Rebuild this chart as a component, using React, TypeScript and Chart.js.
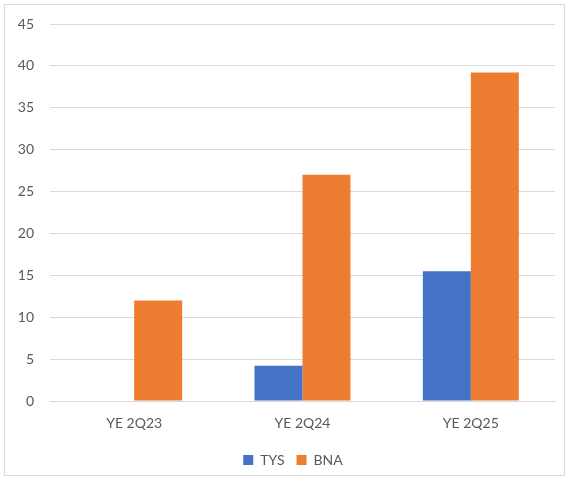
import React, { useEffect, useRef } from "react";
import { Chart, registerables } from "chart.js";

Chart.register(...registerables);

const categories = ["YE 2Q23", "YE 2Q24", "YE 2Q25"];
const tysValues = [0, 4.2, 15.5];
const bnaValues = [12, 27, 39.2];
const yMin = 0;
const yMax = 45;
const yStep = 5;

export default function App() {
  const ref = useRef<HTMLCanvasElement | null>(null);
  useEffect(() => {
    document.body.style.margin = "0";
    const ctx = ref.current!;
    const shiftLegend = {
      id: "shiftLegend",
      afterLayout(chart: any) {
        if (chart.legend) {
          chart.legend.left += 13;
          chart.legend.right += 13;
          chart.legend.top += 2;
          chart.legend.bottom += 2;
        }
      },
    };
    const chart = new Chart(ctx, {
      type: "bar",
      data: {
        labels: categories,
        datasets: [
          { label: "TYS", data: tysValues, backgroundColor: "#4472C4", categoryPercentage: 0.57, barPercentage: 1 },
          { label: "BNA", data: bnaValues, backgroundColor: "#ED7D31", categoryPercentage: 0.57, barPercentage: 1 },
        ],
      },
      options: {
        animation: false,
        responsive: false,
        layout: { padding: { left: 0, right: 9, top: 19, bottom: 0 } },
        plugins: {
          legend: {
            position: "bottom",
            labels: {
              boxWidth: 10,
              boxHeight: 10,
              padding: 12,
              color: "#595959",
              font: { family: "Lato", size: 14 },
            },
          },
          tooltip: { enabled: false },
        },
        scales: {
          x: {
            grid: { display: false },
            border: { display: true, color: "#d9d9d9" },
            ticks: { color: "#595959", font: { family: "Lato", size: 14 }, padding: 6 },
            afterFit: (s: any) => { s.height = 38; },
          },
          y: {
            min: yMin,
            max: yMax,
            ticks: { stepSize: yStep, color: "#595959", font: { family: "Lato", size: 14 }, padding: 16 },
            grid: { color: "#d9d9d9", drawTicks: false },
            border: { display: false },
            afterFit: (s: any) => { s.width = 45; s.paddingTop = 0; s.paddingBottom = 0; },
          },
        },
      },
      plugins: [shiftLegend],
    });
    return () => chart.destroy();
  }, []);
  return (
    <div style={{ position: "absolute", left: 4, top: 4, width: 559, height: 470, border: "1px solid #d9d9d9", background: "#fff" }}>
      <canvas ref={ref} width={559} height={470} style={{ display: "block" }} />
    </div>
  );
}
